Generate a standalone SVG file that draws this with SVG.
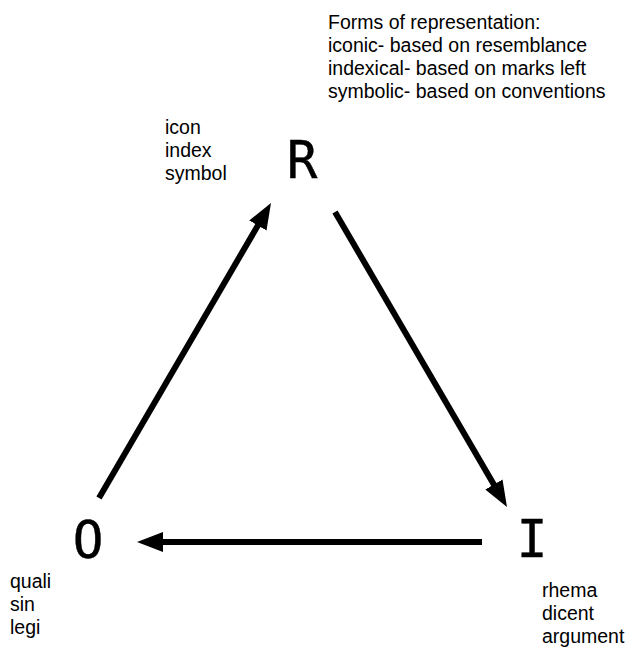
<svg xmlns="http://www.w3.org/2000/svg" width="629" height="649" viewBox="0 0 629 649">
<style>
.lbl{font-family:"Liberation Sans",Arial,sans-serif;font-size:19.5px;fill:#000}
.big{font-family:"DejaVu Sans Mono",monospace;font-size:51px;fill:#000;stroke:#000;stroke-width:0.4}
.edge{stroke:#000;stroke-width:6;fill:none;stroke-linecap:butt}
</style>
<defs>
<marker id="ah" markerUnits="userSpaceOnUse" viewBox="0 0 26 20" refX="6" refY="10" markerWidth="26" markerHeight="20" orient="auto">
<polygon points="0,0 26,10 0,20" fill="#000"/>
</marker>
</defs>
<rect width="629" height="649" fill="#fff"/>
<g id="note">
<text class="lbl" x="328" y="29">Forms of representation:</text>
<text class="lbl" x="328" y="52">iconic- based on resemblance</text>
<text class="lbl" x="328" y="75">indexical- based on marks left</text>
<text class="lbl" x="328" y="98">symbolic- based on conventions</text>
</g>
<g id="node-R">
<text class="big" x="302" y="178" text-anchor="middle">R</text>
<text class="lbl" x="165" y="134">icon</text>
<text class="lbl" x="165" y="157">index</text>
<text class="lbl" x="165" y="180">symbol</text>
</g>
<g id="node-O">
<text class="big" x="88" y="558" text-anchor="middle">O</text>
<text class="lbl" x="10" y="588">quali</text>
<text class="lbl" x="10" y="611">sin</text>
<text class="lbl" x="10" y="634">legi</text>
</g>
<g id="node-I">
<text class="big" x="532" y="557" text-anchor="middle">I</text>
<text class="lbl" x="542" y="597">rhema</text>
<text class="lbl" x="542" y="620">dicent</text>
<text class="lbl" x="542" y="643">argument</text>
</g>
<g id="connectors">
<line class="edge" x1="99" y1="498" x2="260.9" y2="220.3" marker-end="url(#ah)"/>
<line class="edge" x1="335" y1="212" x2="496.9" y2="489.7" marker-end="url(#ah)"/>
<line class="edge" x1="482" y1="542" x2="157" y2="542" marker-end="url(#ah)"/>
</g>
</svg>
